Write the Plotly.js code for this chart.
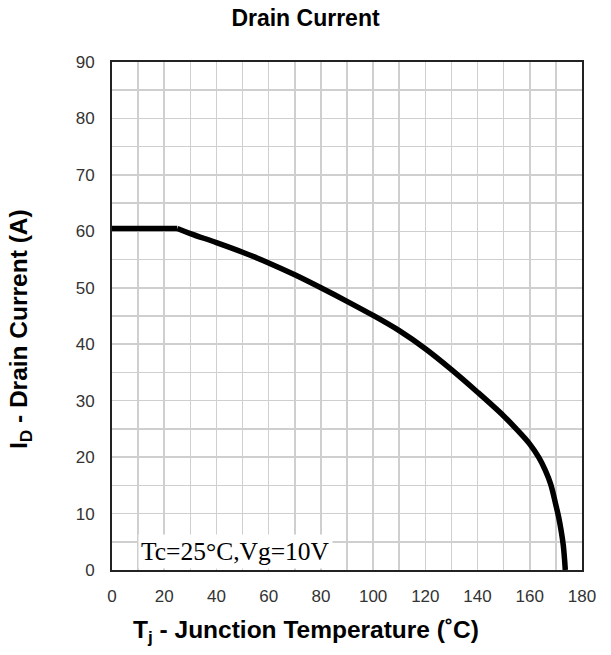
<!DOCTYPE html>
<html>
<head>
<meta charset="utf-8">
<script src="https://cdn.plot.ly/plotly-3.0.1.min.js"></script>
<style>html,body{margin:0;padding:0;background:#fff;}#chart{width:611px;height:655px;}</style>
</head>
<body>
<div id="chart"></div>
<script>
// Junction temperature (°C)
const tempC = [0, 25, 30, 40, 50, 60, 70, 80, 90, 100, 110, 120, 130, 140, 150, 155, 160, 163.5, 166, 168, 170, 171, 172, 172.8, 173.3, 173.6];
// Drain current (A)
const drainA = [60.5, 60.5, 59.6, 58.0, 56.3, 54.4, 52.3, 50.0, 47.6, 45.1, 42.4, 39.2, 35.5, 31.5, 27.3, 24.9, 22.3, 19.9, 17.6, 15.2, 11.5, 9.5, 7.0, 4.5, 2.0, 0];
const xTicks = [0, 20, 40, 60, 80, 100, 120, 140, 160, 180];
const yTicks = [0, 10, 20, 30, 40, 50, 60, 70, 80, 90];
const chartTitle = "Drain Current";
const xTitle = "T<sub>j</sub> - Junction Temperature (˚C)";
const yTitle = "I<sub>D</sub> - Drain Current (A)";
const noteText = "Tc=25°C,Vg=10V";

const tickFont = {family: "Liberation Sans, Arial, sans-serif", size: 17, color: "#333"};
const titleFont = {family: "Liberation Sans, Arial, sans-serif", size: 23, color: "#000", weight: "bold"};
const axisTitleFont = {family: "Liberation Sans, Arial, sans-serif", size: 24.5, color: "#000", weight: "bold"};

// flat limit segment (first two points) drawn straight, the derating curve drawn smooth
const flatPart = {
  x: tempC.slice(0, 2), y: drainA.slice(0, 2), type: "scatter", mode: "lines",
  line: {color: "#000", width: 5.5}, hoverinfo: "skip"
};
const curvePart = {
  x: tempC.slice(1), y: drainA.slice(1), type: "scatter", mode: "lines",
  line: {color: "#000", width: 5.5, shape: "spline", smoothing: 1.0}, hoverinfo: "skip"
};

const layout = {
  width: 611, height: 655,
  margin: {l: 112, r: 29, t: 62, b: 85},
  paper_bgcolor: "#fff", plot_bgcolor: "#fff",
  showlegend: false,
  title: {text: "<b>" + chartTitle + "</b>", font: titleFont, x: 0.5, xanchor: "center", y: 0.972, yanchor: "middle"},
  xaxis: {
    range: [0, 180], tickvals: xTicks, ticktext: xTicks.map(String),
    showgrid: true, gridcolor: "#cfcfcf", gridwidth: 1.5,
    minor: {dtick: 10, showgrid: true, gridcolor: "#cfcfcf", gridwidth: 1.5},
    showline: true, mirror: true, linecolor: "#222", linewidth: 2,
    zeroline: false, ticks: "", tickfont: tickFont, ticklabelstandoff: 10, fixedrange: true
  },
  yaxis: {
    range: [0, 90], tickvals: yTicks, ticktext: yTicks.map(String),
    showgrid: true, gridcolor: "#cfcfcf", gridwidth: 1.5,
    minor: {dtick: 5, showgrid: true, gridcolor: "#cfcfcf", gridwidth: 1.5},
    showline: true, mirror: true, linecolor: "#222", linewidth: 2,
    zeroline: false, ticks: "", tickfont: tickFont, ticklabelstandoff: 12, fixedrange: true
  },
  annotations: [
    {text: "<b>" + xTitle + "</b>", xref: "paper", yref: "paper", x: 0.413, y: -0.122,
     xanchor: "center", yanchor: "middle", showarrow: false, font: axisTitleFont},
    {text: "<b>" + yTitle + "</b>", xref: "paper", yref: "paper", x: -0.195, y: 0.475,
     xanchor: "center", yanchor: "middle", textangle: -90, showarrow: false, font: axisTitleFont},
    {text: noteText, xref: "paper", yref: "paper", x: 0.055, y: 0.002,
     xanchor: "left", yanchor: "bottom", showarrow: false, bgcolor: "#fff", borderpad: 2,
     font: {family: "Liberation Serif, Times New Roman, serif", size: 25.5, color: "#000"}}
  ]
};

Plotly.newPlot("chart", [flatPart, curvePart], layout, {staticPlot: true, displayModeBar: false});
</script>
</body>
</html>
